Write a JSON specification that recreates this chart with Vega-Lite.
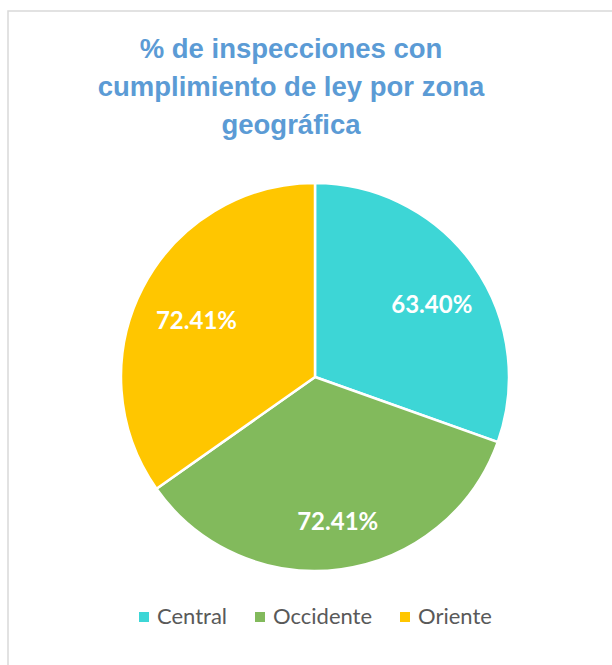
{
  "$schema": "https://vega.github.io/schema/vega-lite/v6.json",
  "autosize": {"type": "none"},
  "padding": {"left": 8, "top": 11, "right": 0, "bottom": 0},
  "width": 614,
  "height": 732,
  "background": "white",
  "view": {"stroke": "#d9d9d9", "strokeWidth": 1.5, "fill": "white"},
  "config": {"view": {"stroke": "#d9d9d9", "strokeWidth": 1.5}},
  "title": {
    "text": ["% de inspecciones con", "cumplimiento de ley por zona", "geográfica"],
    "orient": "top",
    "anchor": "middle",
    "frame": "group",
    "offset": -128,
    "dx": -24,
    "font": "Liberation Sans",
    "fontSize": 27.5,
    "fontWeight": "bold",
    "color": "#5B9BD5",
    "lineHeight": 38
  },
  "data": {
    "values": [
      {"zona": "Central", "pct": 63.40, "label": "63.40%"},
      {"zona": "Occidente", "pct": 72.41, "label": "72.41%"},
      {"zona": "Oriente", "pct": 72.41, "label": "72.41%"}
    ]
  },
  "layer": [
    {
      "mark": {"type": "arc", "outerRadius": 194, "stroke": "white", "strokeWidth": 2.5},
      "encoding": {
        "theta": {"field": "pct", "type": "quantitative", "stack": true},
        "color": {
          "field": "zona",
          "type": "nominal",
          "scale": {"domain": ["Central", "Occidente", "Oriente"], "range": ["#3DD6D6", "#82BA5C", "#FFC600"]},
          "legend": {
            "title": null,
            "orient": "none",
            "direction": "horizontal",
            "legendX": 125,
            "legendY": 595,
            "symbolType": "square",
            "symbolSize": 100,
            "symbolStrokeWidth": 0,
            "labelFont": "Lato",
            "labelFontSize": 22,
            "labelColor": "#595959",
            "labelOffset": 2,
            "columnPadding": 21
          }
        }
      }
    },
    {
      "mark": {"type": "text", "radius": 138, "dy": 9, "dx": 4, "font": "Lato", "fontSize": 24, "fontWeight": "bold", "fill": "white"},
      "encoding": {
        "theta": {"field": "pct", "type": "quantitative", "stack": true},
        "detail": {"field": "zona", "type": "nominal"},
        "text": {"field": "label", "type": "nominal"}
      }
    }
  ]
}
